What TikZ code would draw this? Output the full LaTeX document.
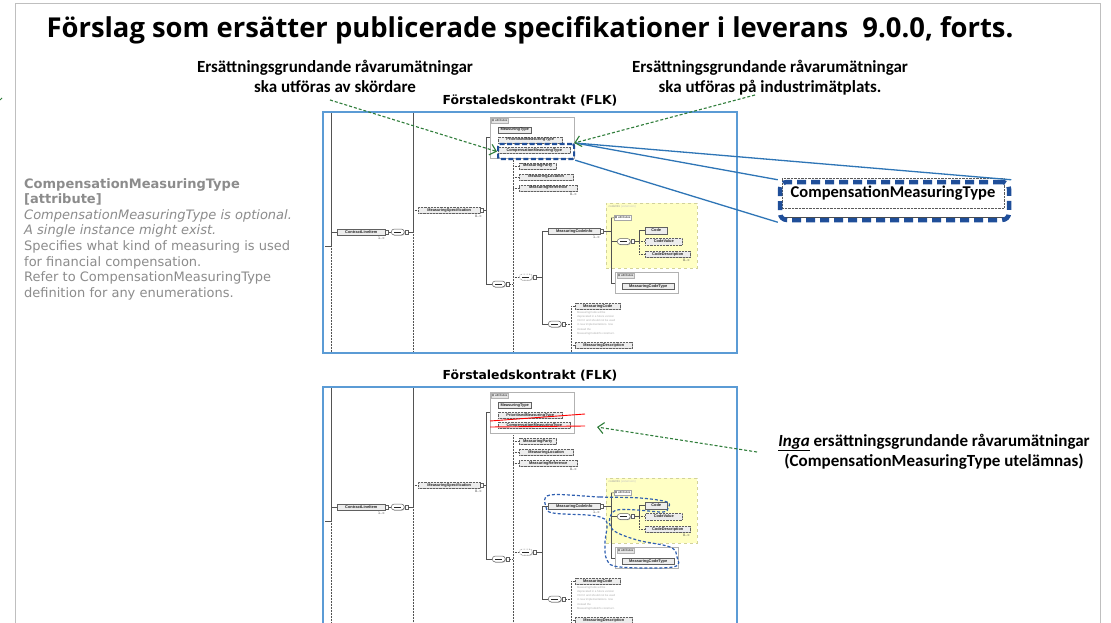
\documentclass[tikz,border=0pt]{standalone}
\usepackage{fontspec}
\setmainfont{Carlito}
\newfontfamily\djv{DejaVu Sans}
\newfontfamily\lib{Liberation Sans}
\newfontfamily\opensans{Open Sans}
\usetikzlibrary{shadows,arrows.meta,calc}
\definecolor{frameblue}{HTML}{5B9BD5}
\definecolor{lineblue}{HTML}{2E75B6}
\definecolor{darkblue}{HTML}{1F4E99}
\definecolor{blobblue}{HTML}{2F5FB0}
\definecolor{anngreen}{HTML}{2F7D3A}
\definecolor{txtgray}{HTML}{8C8C8C}
\definecolor{slidegray}{HTML}{BFBFBF}
\definecolor{extyellow}{HTML}{FFFFC4}
\definecolor{extborder}{HTML}{D2D29A}
\tikzset{
  shad/.style={drop shadow={shadow xshift=0.7pt,shadow yshift=-0.7pt,fill=gray!55,opacity=1}},
  el/.style={draw=gray!75!black, fill=gray!14, line width=0.45pt, anchor=west,
    minimum width=#1pt, minimum height=6.5pt, inner sep=0pt,
    font=\lib\bfseries\fontsize{3.9}{3.9}\selectfont, text=black!85, shad},
  el/.default=40,
  opt/.style={el=#1, densely dotted},
  opt/.default=40,
  seq/.style={draw=gray!75!black, fill=white, line width=0.5pt, rounded corners=3pt,
    minimum width=13pt, minimum height=6pt, inner sep=0pt, anchor=west, shad,
    path picture={\draw[gray!30!black, line width=0.5pt, solid]
      ([xshift=3pt]path picture bounding box.west) -- ([xshift=-3pt]path picture bounding box.east);}},
  choice/.style={seq, densely dotted},
  cn/.style={draw=gray!75!black, fill=white, line width=0.4pt, minimum width=3pt,
    minimum height=4pt, inner sep=0pt, anchor=west},
  mult/.style={font=\djv\fontsize{3.2}{3.2}\selectfont, text=black!80, inner sep=0pt},
  tree/.style={draw=gray!65!black, line width=0.5pt},
  treed/.style={tree, densely dotted},
  grp/.style={draw=gray!60, fill=white, line width=0.6pt, anchor=north west, inner sep=0pt, shad},
  tab/.style={draw=gray!60, fill=gray!20, anchor=north west, font=\lib\fontsize{3}{3}\selectfont,
    text=gray!30!black, inner sep=0.6pt, minimum height=5pt},
  ext/.style={draw=extborder, fill=extyellow, dashed, line width=0.8pt, anchor=north west, inner sep=0pt},
  extl/.style={font=\lib\fontsize{3}{3}\selectfont, text=gray!75, anchor=north west, inner sep=0pt},
  desc/.style={font=\lib\fontsize{2.8}{4.2}\selectfont, text=gray!65, align=left, anchor=north west, inner sep=0pt},
  ann/.style={font=\bfseries\fontsize{17}{20}\selectfont, align=center, inner sep=0pt},
  ttl/.style={font=\opensans\bfseries\fontsize{27.4}{30}\selectfont, inner sep=0pt},
  flk/.style={font=\djv\bfseries\fontsize{12.4}{14}\selectfont, inner sep=0pt},
  lefttxt/.style={font=\djv\fontsize{13}{15.6}\selectfont, text=txtgray, align=left, anchor=north west, inner sep=0pt},
  garrow/.style={draw=anngreen, line width=1.1pt, dash pattern=on 3pt off 2pt,
    -{Straight Barb[length=6pt,width=11pt]}},
  cline/.style={draw=lineblue, line width=1.3pt},
}
\newcommand{\xsdtree}[3]{%
\begin{scope}[shift={(0,#2)}]
 \begin{scope}
 \clip (323,112) rectangle (737,#3);
 \draw[tree] (331,112) -- (331,246);
 \draw[treed] (331,246) -- (331,#3);
 \draw[tree] (325,246) -- (331,246);
 \draw[tree] (413,112) -- (413,232);
 \draw[treed] (413,232) -- (413,#3);
 % ContractLineItem
 \node[el=48] (#1cl) at (337,232) {ContractLineItem};
 \node[mult, anchor=north east] (#1clm) at (385,237) {1..∞};
 \node[cn] (#1clc) at (#1cl.east) {};
 \node[seq] (#1sa) at (391,232) {};
 \node[cn] (#1sac) at (#1sa.east) {};
 \draw[tree] (331,232) -- (#1cl.west);
 \draw[tree] (#1clc.east) -- (#1sa.west);
 \draw[tree] (#1sac.east) -- (413,232);
 % MeasuringSpecification
 \node[opt=62] (#1ms) at (418,210) {MeasuringSpecification};
 \node[cn] (#1msc) at (#1ms.east) {};
 \node[mult, anchor=north east] (#1msm) at (482,215) {0..∞};
 \draw[treed] (413,210) -- (#1ms.west);
 \draw[tree] (#1msc.east) -- (486,210);
 \draw[tree] (486,137) -- (486,284);
 \draw[tree] (486,137) -- (490,137);
 % attributes
 \node[grp, minimum width=84pt, minimum height=41pt] (#1ag) at (490,117) {};
 \node[tab] (#1agt) at (491,118) {{\djv ⊟} attributes};
 \node[el=33] (#1mt) at (498,130) {MeasuringType};
 \node[opt=64] (#1pm) at (498,140) {PrioritisedMeasuringType};
 \node[opt=72] (#1cm) at (498,150) {CompensationMeasuringType};
 % sequence 2
 \node[seq] (#1sb) at (492,284) {};
 \node[cn] (#1sbc) at (#1sb.east) {};
 \draw[tree] (486,284) -- (#1sb.west);
 \draw[treed] (#1sbc.east) -- (513,284);
 \draw[treed] (513,160) -- (513,#3);
 \node[opt=37] (#1mp) at (519,166) {MeasuringParty};
 \node[opt=54] (#1ml) at (519,177) {MeasuringLocation};
 \node[opt=58] (#1mr) at (519,188) {MeasuringReference};
 \node[mult, anchor=north east] (#1mrm) at (577,193) {0..∞};
 \draw[treed] (513,166) -- (#1mp.west);
 \draw[treed] (513,177) -- (#1ml.west);
 \draw[treed] (513,188) -- (#1mr.west);
 % choice
 \node[choice] (#1ch) at (519,277) {};
 \node[cn] (#1chc) at (#1ch.east) {};
 \draw[treed] (513,277) -- (#1ch.west);
 \draw[tree] (#1chc.east) -- (542,277);
 \draw[tree] (542,231) -- (542,324);
 \node[el=52] (#1mci) at (548,231) {MeasuringCodeInfo};
 \node[cn] (#1mcic) at (#1mci.east) {};
 \node[mult, anchor=north east] (#1mcim) at (600,236) {1..∞};
 \draw[tree] (542,231) -- (#1mci.west);
 % extension
 \node[ext, minimum width=91pt, minimum height=65pt] (#1ext) at (606,203) {};
 \node[extl] (#1extl) at (608.5,205) {codeInfo {\color{gray!45}(extension)}};
 \draw[tree] (#1mcic.east) -- (611,231);
 \draw[tree] (611,218) -- (611,283);
 \node[tab, fill=white, draw=gray!70] (#1at) at (614,215) {{\djv ⊞} attributes};
 \draw[tree] (611,218) -- (#1at.west);
 \node[seq] (#1sd) at (617,241.5) {};
 \node[cn] (#1sdc) at (#1sd.east) {};
 \draw[tree] (611,241.5) -- (#1sd.west);
 \draw[tree] (#1sdc.east) -- (639,241.5);
 \draw[tree] (639,230.5) -- (639,241.5);
 \draw[treed] (639,241.5) -- (639,254);
 \node[el=22] (#1cd) at (645,230.5) {Code};
 \node[opt=37] (#1cv) at (645,241.5) {CodeValue};
 \node[opt=45] (#1cds) at (645,254) {CodeDescription};
 \node[mult, anchor=north east] (#1cdsm) at (690,259) {0..∞};
 \draw[tree] (639,230.5) -- (#1cd.west);
 \draw[treed] (639,241.5) -- (#1cv.west);
 \draw[treed] (639,254) -- (#1cds.west);
 \node[grp, minimum width=63pt, minimum height=21pt] (#1ag2) at (615,272) {};
 \node[tab] (#1ag2t) at (617,273) {{\djv ⊟} attributes};
 \node[el=52] (#1mct) at (622,286) {MeasuringCodeType};
 \draw[tree] (611,283) -- (615,283);
 % sequence 3
 \node[seq] (#1sc) at (548,324) {};
 \node[cn] (#1scc) at (#1sc.east) {};
 \draw[tree] (542,324) -- (#1sc.west);
 \draw[treed] (#1scc.east) -- (571,324);
 \draw[treed] (571,306) -- (571,#3);
 \node[opt=45] (#1mc) at (575,306) {MeasuringCode};
 \node[desc] (#1mcd) at (577,311) {MeasuringCode will be\\deprecated in a future version\\V9.0.0 and should not be used\\in new implementations. Use\\instead the\\MeasuringCodeInfo construct.};
 \node[opt=57] (#1md) at (575,345) {MeasuringDescription};
 \draw[treed] (571,306) -- (#1mc.west);
 \draw[treed] (571,345) -- (#1md.west);
 \end{scope}
 \draw[frameblue, line width=1.6pt] (323,112) rectangle (737,#3);
\end{scope}}
\begin{document}
\begin{tikzpicture}[x=1pt,y=-1pt]
\useasboundingbox[fill=white] (0,0) rectangle (1111,623);
\draw[slidegray, line width=1pt] (15,640) -- (15,4) -- (1100,4) -- (1100,640);
\draw[anngreen, line width=1pt] (0,100) -- (2,98);
\node[ttl, anchor=base] (title) at (530,38) {Förslag som ersätter publicerade specifikationer i leverans\ \ 9.0.0, forts.};
\node[ann] (annL) at (335,76.5) {Ersättningsgrundande råvarumätningar\\ska utföras av skördare};
\node[ann] (annR) at (770,77.5) {Ersättningsgrundande råvarumätningar\\ska utföras på industrimätplats.};
\node[ann] (annB) at (934,451.5) {\underline{\textit{Inga}} ersättningsgrundande råvarumätningar\\(CompensationMeasuringType utelämnas)};
\node[flk] (flkT) at (530,101) {Förstaledskontrakt (FLK)};
\node[flk] (flkB) at (530,376) {Förstaledskontrakt (FLK)};
\node[lefttxt] (lt) at (24,178) {\textbf{CompensationMeasuringType}\\\textbf{[attribute]}\\\textit{CompensationMeasuringType is optional.}\\\textit{A single instance might exist.}\\Specifies what kind of measuring is used\\for financial compensation.\\Refer to CompensationMeasuringType\\definition for any enumerations.};
\xsdtree{t}{0}{353}
\xsdtree{b}{275}{370}
% highlight in top diagram
\node[draw=darkblue, line width=2.2pt, dash pattern=on 5pt off 2.5pt, rounded corners=2pt,
  minimum width=76pt, minimum height=15pt, anchor=north west, inner sep=0pt] (thl) at (497,143) {};
% strike-through in bottom diagram
\draw[red, line width=0.9pt] (490,421) -- (585,414);
\draw[red, line width=0.9pt] (490,427) -- (585,426);
% blob in bottom diagram
\draw[blobblue, line width=1.2pt, dash pattern=on 3pt off 2pt]
  plot[smooth cycle, tension=0.6] coordinates {(550,495) (600,497) (640,498) (667,502) (668,508) (663,512) (637,510) (617,510) (610,517) (613,530) (637,540) (670,547) (677,557) (673,567) (620,567) (607,560) (605,543) (607,523) (600,517) (587,515) (553,513) (546,507)};
% callout
\node[draw=gray!70!black, densely dotted, fill=white, minimum width=222pt, minimum height=30pt,
  inner sep=0pt, font=\bfseries\fontsize{16.5}{18}\selectfont] (cot) at (893,193) {CompensationMeasuringType};
\draw[gray!60!black, line width=1pt] ([yshift=-9pt]cot.south west) -- ([yshift=-9pt]cot.south east);
\node[draw=darkblue, line width=4.5pt, dash pattern=on 9pt off 5pt, rounded corners=7pt,
  minimum width=229pt, minimum height=38pt, inner sep=0pt] (co) at (894.5,201) {};
\draw[cline] (thl.north east) -- (co.north east);
\draw[cline] (thl.north east) -- (co.north west);
\draw[cline] (thl.south east) -- (co.south west);
% green arrows
\coordinate (gL) at (330,100);
\coordinate (gR) at (755,95);
\coordinate (gB) at (757,452);
\coordinate (gBt) at (597,427);
\draw[garrow] (gL) -- (thl.west);
\draw[garrow] (gR) -- ([xshift=-1pt]thl.north east);
\draw[garrow] (gB) -- (gBt);
\end{tikzpicture}
\end{document}
